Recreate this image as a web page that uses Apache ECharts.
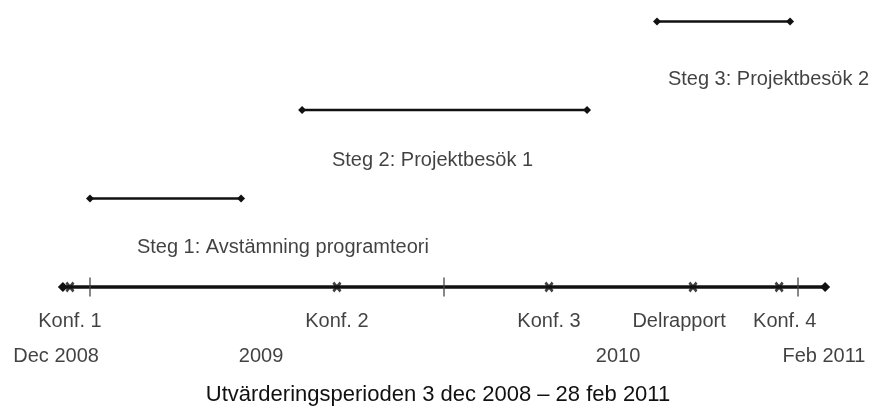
<!DOCTYPE html>
<html>
<head>
<meta charset="utf-8">
<script src="https://cdn.jsdelivr.net/npm/echarts@6/dist/echarts.min.js"></script>
<style>
  html, body { margin: 0; padding: 0; background: #fff; }
  #chart { width: 876px; height: 410px; }
</style>
</head>
<body>
<div id="chart"></div>
<script>
// x: months counted from Jan 2009 (as drawn), y: row level (0 = timeline)
const periodStart = -0.92
const periodEnd = 24.92
const yearTicks = [0, 12, 24]

const eventNames = ['Konf. 1', 'Konf. 2', 'Konf. 3', 'Delrapport', 'Konf. 4']
const eventX = [-0.68, 8.37, 15.56, 20.44, 23.36]
const eventLabelX = [-0.68, 8.37, 15.56, 19.97, 23.55]

const dateLabels = ['Dec 2008', '2009', '2010', 'Feb 2011']
const dateLabelX = [-1.15, 5.8, 17.9, 24.88]

const stepNames = ['Steg 1: Avstämning programteori', 'Steg 2: Projektbesök 1', 'Steg 3: Projektbesök 2']
const stepStart = [0, 7.19, 19.22]
const stepEnd = [5.12, 16.85, 23.73]
const stepLevel = [1, 2, 3]
const stepLabelX = [1.59, 8.2, 19.59]
const stepLabelY = [0.452, 1.435, 2.34]

const eventLabelY = -0.395
const dateLabelY = -0.78
const titleText = 'Utvärderingsperioden 3 dec 2008 – 28 feb 2011'

const font = '"Liberation Sans", Arial, sans-serif'
const textColor = '#111'
const xShape = 'path://M0,2L2,0L5,3L8,0L10,2L7,5L10,8L8,10L5,7L2,10L0,8L3,5Z'

const chart = echarts.init(document.getElementById('chart'))

const series = []

// main timeline
series.push({
  type: 'line',
  data: [[periodStart, 0], [periodEnd, 0]],
  symbol: 'diamond',
  symbolSize: 10,
  lineStyle: { color: '#111', width: 3.5 },
  itemStyle: { color: '#111' },
  z: 2
})

// year ticks
series.push({
  type: 'scatter',
  data: yearTicks.map(v => [v, 0]),
  symbol: 'rect',
  symbolSize: [1.6, 19],
  itemStyle: { color: '#444' },
  z: 3
})

// events (x marks)
series.push({
  type: 'scatter',
  data: eventX.map(v => [v, 0]),
  symbol: xShape,
  symbolSize: [9, 11],
  itemStyle: { color: '#111' },
  z: 4
})

// steps
stepNames.forEach((name, i) => {
  series.push({
    type: 'line',
    data: [[stepStart[i], stepLevel[i]], [stepEnd[i], stepLevel[i]]],
    symbol: 'diamond',
    symbolSize: 8,
    lineStyle: { color: '#111', width: 2.6 },
    itemStyle: { color: '#111' },
    z: 2
  })
})

const labelBase = {
  show: true,
  position: [0, 0],
  verticalAlign: 'middle',
  fontFamily: font,
  fontSize: 20,
  color: textColor
}

function textSeries(points, align) {
  return {
    type: 'scatter',
    symbolSize: 0,
    data: points.map(p => ({ value: [p.x, p.y], label: { formatter: p.text } })),
    label: Object.assign({}, labelBase, { align: align }),
    silent: true,
    z: 5
  }
}

series.push(textSeries(eventNames.map((t, i) => ({ x: eventLabelX[i], y: eventLabelY, text: t })), 'center'))
series.push(textSeries(dateLabels.map((t, i) => ({ x: dateLabelX[i], y: dateLabelY, text: t })), 'center'))
series.push(textSeries(stepNames.map((t, i) => ({ x: stepLabelX[i], y: stepLabelY[i], text: t })), 'left'))

chart.setOption({
  animation: false,
  backgroundColor: '#fff',
  title: {
    text: titleText,
    left: 'center',
    top: 379,
    textStyle: { fontFamily: font, fontSize: 22, fontWeight: 'normal', color: textColor }
  },
  grid: { left: 0, right: 0, top: 0, bottom: 0 },
  xAxis: {
    type: 'value',
    min: -3.051,
    max: 26.644,
    show: false
  },
  yAxis: {
    type: 'value',
    min: -1.39,
    max: 3.243,
    show: false
  },
  series: series
})
</script>
</body>
</html>
